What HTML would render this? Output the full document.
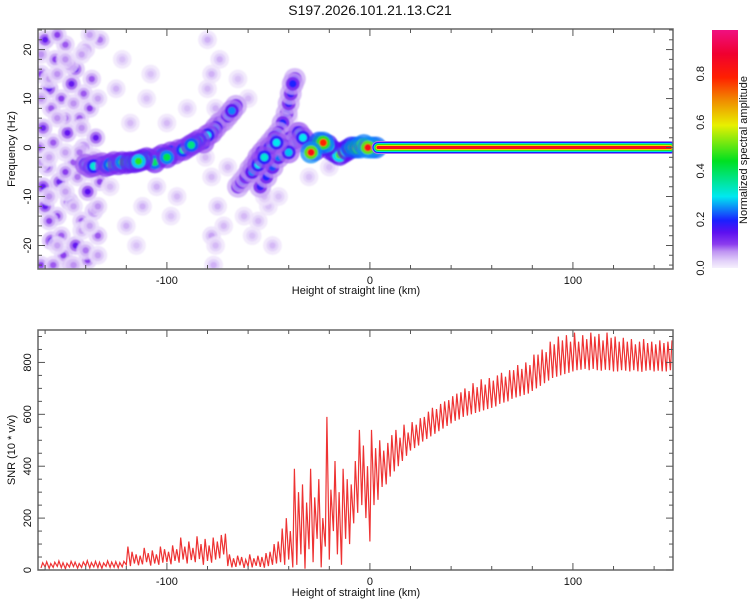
<!DOCTYPE html>
<html><head><meta charset="utf-8"><style>
body{margin:0;background:#fff;}
svg{display:block;font-family:"Liberation Sans",sans-serif;}
</style></head><body>
<svg id="c" width="750" height="600" viewBox="0 0 750 600"></svg>
<script>
// ---- data ----
const xTicks=[-100,0,100];
const fTicks=[-20,-10,0,10,20];
const snrTicks=[0,200,400,600,800];
const cbTicks=[0.0,0.2,0.4,0.6,0.8];
// spectral ridge blobs
const ridgeX=[-140,-138,-136,-134,-132,-130,-128,-126,-124,-122,-120,-118,-116,-114,-112,-110,-108,-106,-104,-102,-100,-98,-96,-94,-92,-90,-88,-86,-84,-82,-80,-78,-76,-74,-72,-70,-68,-66,
 -65,-63,-61,-59,-57,-55,-53,-51,-49,-47,-45,-43,-41,-40,-39,-38,-37,
 -58,-55,-52,-49,-46,-43,-40,-37,-35,-33,-31,
 -54,-51,-48,-45,-42,-39,-36,
 -29,-27,-25,-23,-21,-19,-17,-15,-13,-11,-9,-7,-5,-3,-1,1,3];
const ridgeF=[-3.5,-4,-3.8,-3.5,-3.2,-3.8,-3.5,-3,-3.4,-3,-3.2,-3,-3,-2.8,-2.5,-2.2,-2.5,-3,-2,-1.5,-2,-1,-1.2,-0.5,-0.5,0,0.5,1,1.5,1,2.5,3,4,5,5.5,6.5,7.5,8.5,
 -8,-7,-6,-4.5,-3.5,-2,-1,0,1,2,3,5,7,9,11,13,14,
 -5,-3.5,-2,0,1,0.5,-1,1,3,2,1,
 -8,-6,-4,-2,0,2,3,
 -1,-0.5,1,1,0.5,-0.5,-1,-1.5,-1,-0.5,0,0,0,0.5,0,0,0];
const ridgeA=[0.3,0.3,0.32,0.28,0.3,0.35,0.38,0.35,0.4,0.42,0.4,0.45,0.45,0.48,0.45,0.4,0.38,0.4,0.36,0.38,0.42,0.35,0.34,0.3,0.35,0.3,0.38,0.36,0.33,0.3,0.3,0.28,0.26,0.24,0.22,0.24,0.25,0.2,
 0.18,0.2,0.2,0.22,0.24,0.25,0.26,0.24,0.22,0.24,0.22,0.2,0.18,0.18,0.18,0.2,0.18,
 0.25,0.3,0.32,0.28,0.3,0.26,0.28,0.25,0.28,0.3,0.28,
 0.18,0.2,0.22,0.24,0.2,0.22,0.2,
 0.85,0.5,0.75,0.8,0.55,0.45,0.5,0.5,0.45,0.5,0.6,0.75,0.8,0.82,0.85,0.8,0.8];
// low-amplitude noise blobs
const noiseX=[-160,-155,-150,-145,-140,-158,-152,-147,-138,-143,-161,-156,-149,-141,-135,-159,-153,-146,-139,-133,
 -160,-154,-148,-142,-136,-157,-151,-145,-139,-134,-162,-156,-147,-140,-162,-150,-144,-157,-137,-133,
 -161,-152,-143,-158,-148,-154,-136,-150,-163,-141,
 -162,-158,-154,-150,-146,-142,-138,-134,-162,-158,-154,-150,-146,-142,-138,-134,-162,-158,-154,-150,-146,-142,-138,-134,
 -125,-118,-112,-120,-108,-115,-95,-90,-128,-122,-105,-100,-110,-98,
 -80,-78,-76,-78,-75,-78,-77,-79,-74,-72,-70,-80,-76,-81,-65,-60,-55,-50,-48,-45,-40,-30,-20,-62,-58,-52];
const noiseF=[22,18,21,16,20,12,10,13,8,6,4,1,3,0,2,-4,-7,-3,-9,-7,
 -12,-14,-11,-15,-13,-19,-22,-20,-23,-18,-24,-24,-24,-21,15,6,-6,8,14,22,
 -8,-18,-1,-15,17,23,-2,-5,0,11,
 19,14,6,-1,9,-17,-5,-22,-3,-10,-20,18,-12,4,-16,10,10,-2,15,-9,-24,19,23,-12,
 12,5,-12,-16,15,-20,-10,8,-8,18,-8,5,10,-14,
 22,15,8,-6,-12,-18,-24,3,18,-16,-4,12,-20,-2,14,10,-15,-12,-20,-10,6,-6,-4,-14,-18,-10];
const noiseA=[0.14,0.1,0.09,0.13,0.08,0.14,0.1,0.14,0.1,0.09,0.13,0.09,0.14,0.1,0.14,0.1,0.13,0.09,0.15,0.1,
 0.14,0.1,0.13,0.09,0.1,0.14,0.1,0.14,0.1,0.09,0.1,0.09,0.13,0.08,0.1,0.08,0.08,0.09,0.09,0.08,
 0.14,0.09,0.08,0.1,0.09,0.1,0.08,0.1,0.09,0.09,
 0.07,0.06,0.07,0.06,0.07,0.06,0.07,0.06,0.06,0.07,0.06,0.07,0.06,0.07,0.06,0.06,0.07,0.06,0.07,0.06,0.07,0.06,0.06,0.07,
 0.05,0.045,0.05,0.05,0.04,0.04,0.045,0.04,0.045,0.04,0.05,0.045,0.04,0.04,
 0.05,0.05,0.05,0.045,0.05,0.06,0.05,0.05,0.05,0.045,0.045,0.045,0.045,0.045,0.04,0.045,0.045,0.04,0.045,0.04,0.04,0.04,0.04,0.045,0.04,0.045];
// constant carrier line
const lineStart=[4]; const lineEnd=[148]; const lineF=[0];
// SNR series, 2 km steps from -162
const snrStartX=-162; const snrStep=2;
const snrLo=[8,12,6,10,14,9,5,11,13,7,10,15,8,12,9,6,14,10,11,8,12,
 20,15,25,18,22,30,17,25,20,28,
 30,22,35,28,40,25,38,30,42,20,35,28,40,45,
 60,15,10,12,18,8,14,10,16,12,9,15,20,25,
 30,20,40,10,
 20,60,5,80,30,120,10,90,40,150,60,20,120,100,
 180,220,250,200,110,
 250,270,320,330,360,380,400,420,440,460,
 470,480,495,505,515,525,535,545,555,565,575,580,590,595,600,605,610,615,620,625,
 630,640,645,650,660,665,670,675,680,690,700,710,720,730,740,745,750,755,760,765,
 770,772,775,770,775,770,768,772,770,765,765,770,768,765,770,766,764,768,770,765,768,766,765,770];
const snrHi=[28,32,25,30,35,28,26,33,30,25,31,36,29,33,30,27,35,31,32,29,33,
 90,70,60,55,85,65,75,60,90,80,
 70,95,80,125,90,110,85,130,100,120,95,125,110,135,
 140,60,45,55,50,40,60,45,55,50,65,70,100,110,
 160,200,150,390,
 300,330,260,390,280,350,200,590,310,420,300,390,350,330,
 420,540,480,400,540,
 470,500,460,490,520,540,510,560,530,570,
 560,585,590,610,625,620,640,650,655,670,680,685,700,690,720,705,735,715,740,730,
 750,760,745,770,770,790,775,800,790,830,830,850,840,880,870,900,885,905,880,915,
 880,905,890,915,900,910,885,915,895,900,880,895,880,890,870,880,890,875,880,870,885,875,880,885];

// ---- helpers ----
const NS='http://www.w3.org/2000/svg';
const svg=document.getElementById('c');
function el(tag,attrs,parent){const e=document.createElementNS(NS,tag);for(const k in attrs)e.setAttribute(k,attrs[k]);(parent||svg).appendChild(e);return e;}
const L=38,R=673;
const X0=-163.5,X1=149.3;
const sx=v=>L+(v-X0)/(X1-X0)*(R-L);
const T1=29,B1=269;
const F0=-24.8,F1=24.2;
const sf=v=>B1-(v-F0)/(F1-F0)*(B1-T1);
const T2=330,B2=570;
const S0=0,S1=925;
const ss=v=>B2-(v-S0)/(S1-S0)*(B2-T2);
const stops=[[0,[246,240,253]],[0.03,[226,208,249]],[0.07,[190,146,242]],[0.1,[140,60,238]],[0.15,[92,16,240]],[0.2,[26,32,255]],[0.3,[0,232,240]],[0.45,[0,224,32]],[0.6,[232,240,0]],[0.7,[240,144,0]],[0.8,[255,32,0]],[0.9,[240,0,48]],[1,[240,16,128]]];
function cmap(a){a=Math.max(0,Math.min(1,a));for(let i=1;i<stops.length;i++){if(a<=stops[i][0]){const [p0,c0]=stops[i-1],[p1,c1]=stops[i];const t=(a-p0)/(p1-p0);return 'rgb('+c0.map((c,j)=>Math.round(c+(c1[j]-c)*t)).join(',')+')';}}return 'rgb(240,16,128)';}

const defs=el('defs',{});
const flt=el('filter',{id:'blur',x:'-10%',y:'-10%',width:'120%',height:'120%'},defs);
el('feGaussianBlur',{stdDeviation:0.9},flt);

// title
const title=el('text',{x:370,y:15,'text-anchor':'middle','font-size':14,fill:'#111'});title.textContent='S197.2026.101.21.13.C21';



// ---- top spectrogram ----
const clip=el('clipPath',{id:'cp1'});el('rect',{x:L,y:T1,width:R-L,height:B1-T1},clip);
const specOuter=el('g',{'clip-path':'url(#cp1)'});
const spec=el('g',{filter:'url(#blur)'},specOuter);


function blob(x,f,a,g,scale){
  el('circle',{cx:sx(x),cy:sf(f),r:11*scale,fill:cmap(a*0.3),opacity:0.75},g);
  el('circle',{cx:sx(x),cy:sf(f),r:7*scale,fill:cmap(a*0.6),opacity:0.95},g);
  el('circle',{cx:sx(x),cy:sf(f),r:3.8*scale,fill:cmap(a)},g);
}
const ng=el('g',{},spec);


for(let i=0;i<noiseX.length;i++)blob(noiseX[i],noiseF[i],noiseA[i],ng,0.85);
const rg=el('g',{},spec);


const order=ridgeA.map((a,i)=>i).sort((a,b)=>ridgeA[a]-ridgeA[b]);
for(const i of order)blob(ridgeX[i],ridgeF[i],ridgeA[i],rg,1);
const lg=el('g',{},specOuter);


for(let i=0;i<lineStart.length;i++){
  const layers=[[13,0.08],[11,0.2],[9,0.32],[7,0.48],[5,0.62],[3,0.85]];
  for(const [w,a] of layers)el('line',{x1:sx(lineStart[i]),x2:sx(lineEnd[i]),y1:sf(lineF[i]),y2:sf(lineF[i]),stroke:cmap(a),'stroke-width':w,'stroke-linecap':'round'},lg);
}

function frame(T,B,name){
  const f=el('rect',{x:L,y:T,width:R-L,height:B-T,fill:'none',stroke:'#666','stroke-width':1.5});
  
  
  for(let v=-160;v<=140;v+=20){const x=sx(v);const big=v%100===0;
    el('line',{x1:x,x2:x,y1:B,y2:B-(big?7:4),stroke:'#555'});
    el('line',{x1:x,x2:x,y1:T,y2:T+(big?7:4),stroke:'#555'});}
}
frame(T1,B1,'spectrogram-frame');
for(let v=-24;v<=24;v+=2){const y=sf(v);const big=v%10===0;
  el('line',{x1:L,x2:L+(big?7:4),y1:y,y2:y,stroke:'#555'});el('line',{x1:R,x2:R-(big?7:4),y1:y,y2:y,stroke:'#555'});}
for(const v of fTicks){const t=el('text',{transform:`translate(31,${sf(v)}) rotate(-90)`,'text-anchor':'middle','font-size':11,fill:'#111'});t.textContent=v;
  
  }
for(const v of xTicks){const t=el('text',{x:sx(v),y:284,'text-anchor':'middle','font-size':11,fill:'#111'});t.textContent=v;
  
  }
let t=el('text',{x:356,y:294,'text-anchor':'middle','font-size':11,fill:'#111'});t.textContent='Height of straight line (km)';


t=el('text',{transform:`translate(15,149) rotate(-90)`,'text-anchor':'middle','font-size':11,fill:'#111'});t.textContent='Frequency (Hz)';



// colorbar
const grad=el('linearGradient',{id:'cbg',x1:0,y1:1,x2:0,y2:0},defs);
for(const [p,c] of stops)el('stop',{offset:p,'stop-color':'rgb('+c.join(',')+')'},grad);
const cb=el('rect',{x:712,y:30,width:26,height:238,fill:'url(#cbg)'});


const cy=v=>268-v/0.98*238;
for(const v of cbTicks){const tt=el('text',{transform:`translate(704,${cy(v)}) rotate(-90)`,'text-anchor':'middle','font-size':11,fill:'#111'});tt.textContent=v.toFixed(1);
  
  }
t=el('text',{transform:`translate(747,150) rotate(-90)`,'text-anchor':'middle','font-size':11,fill:'#111'});t.textContent='Normalized spectral amplitude';



// ---- bottom SNR ----
const clip2=el('clipPath',{id:'cp2'});el('rect',{x:L,y:T2,width:R-L,height:B2-T2},clip2);
let d='';
for(let i=0;i<snrLo.length;i++){const x=snrStartX+i*snrStep;
  d+=(i?'L':'M')+sx(x).toFixed(1)+' '+ss(snrLo[i]).toFixed(1)+'L'+sx(x+0.8).toFixed(1)+' '+ss(snrHi[i]).toFixed(1);}
const p=el('path',{d:d,fill:'none',stroke:'#ee3333','stroke-width':1.2,'clip-path':'url(#cp2)'});


frame(T2,B2,'snr-frame');
for(let v=0;v<=900;v+=50){const y=ss(v);const big=v%200===0;
  el('line',{x1:L,x2:L+(big?7:4),y1:y,y2:y,stroke:'#555'});el('line',{x1:R,x2:R-(big?7:4),y1:y,y2:y,stroke:'#555'});}
for(const v of snrTicks){const tt=el('text',{transform:`translate(31,${ss(v)}) rotate(-90)`,'text-anchor':'middle','font-size':11,fill:'#111'});tt.textContent=v;
  
  }
for(const v of xTicks){const tt=el('text',{x:sx(v),y:585,'text-anchor':'middle','font-size':11,fill:'#111'});tt.textContent=v;
  
  }
t=el('text',{x:356,y:596,'text-anchor':'middle','font-size':11,fill:'#111'});t.textContent='Height of straight line (km)';


t=el('text',{transform:`translate(15,450) rotate(-90)`,'text-anchor':'middle','font-size':11,fill:'#111'});t.textContent='SNR (10 * v/v)';


</script>
</body></html>
